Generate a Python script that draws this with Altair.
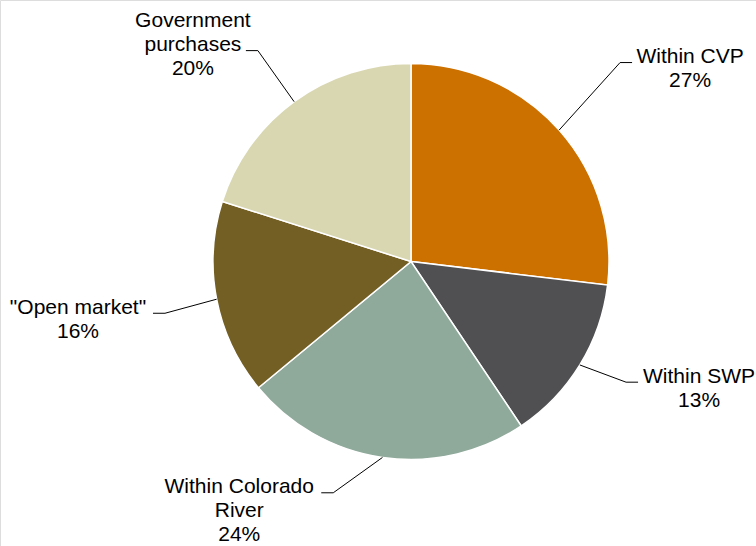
import math
import altair as alt
import pandas as pd

# ---- data ----
categories = ["Within CVP", "Within SWP", "Within Colorado River", '"Open market"', "Government purchases"]
label_lines = ["Within CVP", "Within SWP", "Within Colorado\nRiver", '"Open market"', "Government\npurchases"]
shares = [26.9, 13.7, 23.4, 15.9, 20.1]
pct_labels = ["27%", "13%", "24%", "16%", "20%"]
colors = ["#CC7000", "#505052", "#8FA99B", "#735E23", "#D9D7B1"]

# ---- layout / style (not data) ----
W, H = 756, 546
CX, CY = 411, 261.5          # pie centre in pixels
R = 198                       # pie radius in pixels
FONT = "Liberation Sans"
FS = 21
LH = 24
# per label: elbow radius, angle nudge (deg), text centre offset from leader end, index of connected line
layout = [
    (288.6, -2.0, 58, 0),
    (246.6, -2.2, 61, 0),
    (244.0, 10.3, 82, 0),
    (251.4, -0.9, 75, 0),
    (260.6, 0.2, 53, 1),
]

xs = alt.Scale(domain=[-CX, W - CX], nice=False, zero=False)
ys = alt.Scale(domain=[-(H - CY), CY], nice=False, zero=False)

total = sum(shares)
pie_rows, line_rows, text_rows = [], [], []
cum = 0.0
for i, (cat, s) in enumerate(zip(categories, shares)):
    pie_rows.append({"category": cat, "share": s, "idx": i})
    mid = (cum + s / 2) / total * 360
    cum += s
    th = math.radians(mid)
    ex, ey = R * math.sin(th), R * math.cos(th)
    er, nudge, tdx, li = layout[i]
    th2 = math.radians(mid + nudge)
    bx, by = er * math.sin(th2), er * math.cos(th2)
    side = 1 if math.sin(th) > 0 else -1
    hx = bx + side * 12
    for k, (px, py) in enumerate([(ex, ey), (bx, by), (hx, by)]):
        line_rows.append({"category": cat, "k": k, "x": px, "y": py})
    text_rows.append({
        "category": cat,
        "x": hx + side * tdx,
        "y": by - 0.5 + li * LH,
        "label": label_lines[i] + "\n" + pct_labels[i],
    })

pie_df = pd.DataFrame(pie_rows)
line_df = pd.DataFrame(line_rows)
text_df = pd.DataFrame(text_rows)

pie = alt.Chart(pie_df).mark_arc(outerRadius=R, stroke="white", strokeWidth=1.5).encode(
    theta=alt.Theta("share:Q", stack=True),
    color=alt.Color("category:N", scale=alt.Scale(domain=categories, range=colors), legend=None),
    order=alt.Order("idx:Q"),
    x=alt.XDatum(0, scale=xs, axis=None),
    y=alt.YDatum(0, scale=ys, axis=None),
)

leaders = alt.Chart(line_df).mark_line(color="#000000", strokeWidth=1).encode(
    x=alt.X("x:Q", scale=xs, axis=None),
    y=alt.Y("y:Q", scale=ys, axis=None),
    detail="category:N",
    order="k:Q",
)

labels = alt.Chart(text_df).mark_text(
    align="center", baseline="alphabetic", font=FONT, fontSize=FS,
    lineHeight=LH, lineBreak="\n", color="#000000",
).encode(
    x=alt.X("x:Q", scale=xs, axis=None),
    y=alt.Y("y:Q", scale=ys, axis=None),
    text="label:N",
)

chart = alt.layer(pie, leaders, labels).properties(
    width=W, height=H,
    autosize=alt.AutoSizeParams(type="none"),
    padding=0,
).configure_view(stroke=None).configure(background="white")

chart.save("out.html", embed_options={"renderer": "svg", "actions": False})
